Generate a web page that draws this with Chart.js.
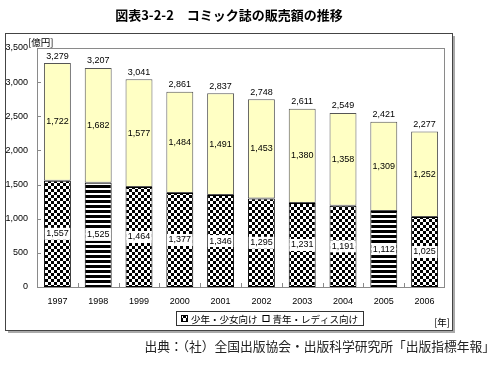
<!DOCTYPE html>
<html>
<head>
<meta charset="utf-8">
<script src="https://cdn.jsdelivr.net/npm/chart.js@4.4.1/dist/chart.umd.min.js"></script>
<style>
  html, body { margin: 0; padding: 0; background: #fff; }
  #wrap { position: relative; width: 500px; height: 372px; }
</style>
</head>
<body>
<div id="wrap"><canvas id="chart" width="500" height="372"></canvas></div>
<script>
// ---- DATA ----
const YEARS  = ['1997', '1998', '1999', '2000', '2001', '2002', '2003', '2004', '2005', '2006'];
const YOUTH  = [1557, 1525, 1464, 1377, 1346, 1295, 1231, 1191, 1112, 1025]; // 少年・少女向け
const ADULT  = [1722, 1682, 1577, 1484, 1491, 1453, 1380, 1358, 1309, 1252]; // 青年・レディス向け
const TOTALS = [3279, 3207, 3041, 2861, 2837, 2748, 2611, 2549, 2421, 2277];
const Y_MAX  = 3500;
const Y_STEP = 500;

const TITLE  = '図表3-2-2　コミック誌の販売額の推移';
const SOURCE = '出典：（社）全国出版協会・出版科学研究所「出版指標年報」';
const Y_UNIT = '[億円]';
const X_UNIT = '[年]';

// lower bar fill styles (scanned pattern in the original)
const LOWER_FILL = ['check', 'stripe', 'check', 'check', 'check', 'check', 'check', 'check', 'stripe', 'check'];

const NUM_FONT = '"Liberation Sans", Arial, sans-serif';
const JP_FONT  = '"Noto Sans CJK JP", sans-serif';

// ---- PATTERNS ----
function makePattern(kind) {
  const c = document.createElement('canvas');
  const g = c.getContext('2d');
  if (kind === 'check') {
    c.width = 6; c.height = 6;
    g.fillStyle = '#fff'; g.fillRect(0, 0, 6, 6);
    g.fillStyle = '#000'; g.fillRect(0, 0, 3, 3); g.fillRect(3, 3, 3, 3);
  } else {
    c.width = 4; c.height = 5;
    g.fillStyle = '#fff'; g.fillRect(0, 0, 4, 5);
    g.fillStyle = '#000'; g.fillRect(0, 0, 4, 3);
  }
  return g.createPattern(c, 'repeat');
}
const PAT = { check: makePattern('check'), stripe: makePattern('stripe') };
const fmt = v => v.toLocaleString('en-US');

// ---- PLUGIN: box, ticks, labels, legend, source ----
const decor = {
  id: 'decor',
  afterDatasetsDraw(chart) {
    const { ctx, chartArea: a, scales } = chart;
    ctx.save();

    // plot frame
    ctx.strokeStyle = '#8a8a8a';
    ctx.lineWidth = 1;
    ctx.strokeRect(a.left + 0.5, a.top + 0.5, a.right - a.left - 1, a.bottom - a.top);

    // inward ticks
    ctx.beginPath();
    for (let v = 0; v <= Y_MAX; v += Y_STEP) {
      const y = Math.round(scales.y.getPixelForValue(v)) + 0.5;
      ctx.moveTo(a.left, y); ctx.lineTo(a.left + 4, y);
    }
    const step = (a.right - a.left) / YEARS.length;
    for (let i = 1; i < YEARS.length; i++) {
      const x = Math.round(a.left + step * i) + 0.5;
      ctx.moveTo(x, a.bottom); ctx.lineTo(x, a.bottom - 4);
    }
    ctx.stroke();

    // value labels
    const m0 = chart.getDatasetMeta(0).data;
    const m1 = chart.getDatasetMeta(1).data;
    ctx.font = '9px ' + NUM_FONT;
    ctx.textAlign = 'center';
    ctx.textBaseline = 'middle';
    m0.forEach((bar, i) => {
      const t = fmt(YOUTH[i]);
      const y = (bar.y + bar.base) / 2;
      const w = ctx.measureText(t).width + 3;
      ctx.fillStyle = '#fff';
      ctx.fillRect(bar.x - w / 2, y - 6, w, 12);
      ctx.fillStyle = '#000';
      ctx.fillText(t, bar.x, y);
    });
    m1.forEach((bar, i) => {
      ctx.fillStyle = '#000';
      ctx.fillText(fmt(ADULT[i]), bar.x, (bar.y + bar.base) / 2);
      ctx.fillText(fmt(TOTALS[i]), bar.x, bar.y - 7);
    });
    ctx.restore();
  },
  afterDraw(chart) {
    const { ctx } = chart;
    ctx.save();

    // title
    ctx.fillStyle = '#000';
    ctx.font = 'bold 13px ' + JP_FONT;
    ctx.textAlign = 'center';
    ctx.textBaseline = 'middle';
    ctx.fillText(TITLE, 229, 15);

    // outer frame with a light shadow on right/bottom
    ctx.fillStyle = '#aaa';
    ctx.fillRect(8, 331, 447, 2);
    ctx.fillRect(453, 36, 2, 297);
    ctx.strokeStyle = '#444';
    ctx.lineWidth = 1;
    ctx.strokeRect(5.5, 33.5, 447, 297);

    // units
    ctx.fillStyle = '#000';
    ctx.font = '9.5px ' + JP_FONT;
    ctx.textAlign = 'left';
    ctx.fillText(Y_UNIT, 28, 42);
    ctx.textAlign = 'right';
    ctx.fillText(X_UNIT, 450, 322);

    // legend
    const ds = chart.data.datasets;
    ctx.textAlign = 'left';
    const lx = 176, ly = 311, lh = 14;
    let x = lx + 5;
    const items = [];
    ds.forEach(d => {
      items.push({ x, label: d.label, fill: d.legendFill });
      x += 7 + 3 + ctx.measureText(d.label).width + 5;
    });
    ctx.strokeStyle = '#333';
    ctx.strokeRect(lx + 0.5, ly + 0.5, x - lx, lh);
    items.forEach(it => {
      ctx.fillStyle = it.fill;
      ctx.fillRect(it.x, ly + 4, 7, 7);
      ctx.strokeStyle = '#000';
      ctx.strokeRect(it.x + 0.5, ly + 4.5, 6, 6);
      ctx.fillStyle = '#000';
      ctx.fillText(it.label, it.x + 10, ly + 8);
    });

    // source
    ctx.font = '12.75px ' + JP_FONT;
    ctx.fillStyle = '#222';
    ctx.textAlign = 'right';
    ctx.fillText(SOURCE, 495, 346);
    ctx.restore();
  }
};

// ---- CHART ----
const ctx = document.getElementById('chart').getContext('2d');
const chart = new Chart(ctx, {
  type: 'bar',
  data: {
    labels: YEARS,
    datasets: [
      {
        label: '少年・少女向け', data: YOUTH,
        backgroundColor: LOWER_FILL.map(k => PAT[k]), legendFill: PAT.check,
        borderColor: '#000', borderWidth: 1, borderSkipped: false
      },
      {
        label: '青年・レディス向け', data: ADULT,
        backgroundColor: '#ffffc4', legendFill: '#fff',
        borderColor: '#555', borderWidth: 1, borderSkipped: false
      }
    ]
  },
  options: {
    responsive: false,
    animation: false,
    devicePixelRatio: 1,
    layout: { padding: { left: 2, right: 55, top: 48, bottom: 60 } },
    datasets: { bar: { barPercentage: 0.66, categoryPercentage: 1.0 } },
    scales: {
      x: {
        stacked: true,
        grid: { display: false, drawTicks: false },
        border: { display: false },
        ticks: { color: '#000', font: { size: 9, family: NUM_FONT }, padding: 9, maxRotation: 0 },
        afterFit: s => { s.height = 25; }
      },
      y: {
        stacked: true, min: 0, max: Y_MAX,
        grid: { display: false, drawTicks: false },
        border: { display: false },
        ticks: { stepSize: Y_STEP, color: '#000', font: { size: 9, family: NUM_FONT }, padding: 9, callback: v => fmt(v) },
        afterFit: s => { s.width = 35; }
      }
    },
    plugins: {
      legend: { display: false },
      tooltip: { enabled: false },
      title: { display: false }
    }
  },
  plugins: [decor]
});
</script>
</body>
</html>
